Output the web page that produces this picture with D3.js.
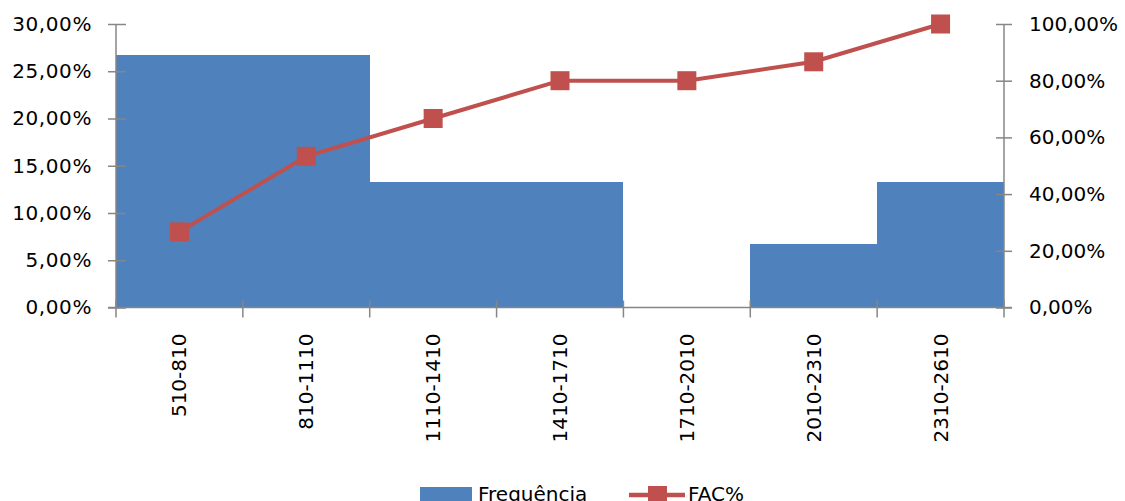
<!DOCTYPE html>
<html>
<head>
<meta charset="utf-8">
<script src="https://cdn.jsdelivr.net/npm/d3@7/dist/d3.min.js"></script>
<style>
  html, body { margin: 0; padding: 0; background: #fff; }
  svg { display: block; }
  text { font-family: "DejaVu Sans", sans-serif; font-size: 20px; fill: #000; }
</style>
</head>
<body>
<svg id="chart" width="1125" height="501"></svg>
<script>
// Class intervals
const categories = ["510-810", "810-1110", "1110-1410", "1410-1710", "1710-2010", "2010-2310", "2310-2610"];
// Relative frequency of each class (fraction)
const frequencia = [0.2667, 0.2667, 0.1333, 0.1333, 0, 0.0667, 0.1333];
// Cumulative frequency, percent as fraction
const facPct = [0.2667, 0.5333, 0.6667, 0.8, 0.8, 0.8667, 1.0];
// Axis tick values
const leftTicks = [0, 0.05, 0.10, 0.15, 0.20, 0.25, 0.30];
const rightTicks = [0, 0.2, 0.4, 0.6, 0.8, 1.0];
const seriesNames = ["Frequência", "FAC%"];

const blue = "#4F81BD", red = "#C0504D", axisGrey = "#868686";
const fmt = v => d3.format(".2f")(v * 100).replace(".", ",") + "%";

const svg = d3.select("#chart");
const plotL = 116, plotR = 1004, plotT = 24, plotB = 307.5;

const x = d3.scaleBand().domain(categories).range([plotL, plotR]).padding(0);
const yL = d3.scaleLinear().domain([0, 0.30]).range([plotB, plotT]);
const yR = d3.scaleLinear().domain([0, 1]).range([plotB, plotT]);

// Bars (no gap between classes)
svg.append("g").attr("shape-rendering", "crispEdges").selectAll("rect")
  .data(categories)
  .join("rect")
  .attr("x", d => Math.round(x(d)))
  .attr("width", d => Math.round(x(d) + x.bandwidth()) - Math.round(x(d)))
  .attr("y", (d, i) => yL(frequencia[i]))
  .attr("height", (d, i) => plotB - yL(frequencia[i]))
  .attr("fill", blue);

// Left axis
const gL = svg.append("g").attr("transform", `translate(${plotL},0)`)
  .call(d3.axisLeft(yL).tickValues(leftTicks).tickFormat(fmt).tickSize(8).tickPadding(16));
gL.select(".domain").attr("stroke", axisGrey).attr("stroke-width", 1.5).attr("d", `M0,${plotT}V${plotB}`);
gL.selectAll(".tick line").attr("stroke", axisGrey).attr("stroke-width", 1.5).attr("x1", 10);
gL.selectAll(".tick text").style("font-size", "20px").style("font-family", "DejaVu Sans, sans-serif")
  .style("letter-spacing", "0.6px");

// Right axis
const gR = svg.append("g").attr("transform", `translate(${plotR},0)`)
  .call(d3.axisRight(yR).tickValues(rightTicks).tickFormat(fmt).tickSize(8).tickPadding(17));
gR.select(".domain").attr("stroke", axisGrey).attr("stroke-width", 1.5).attr("d", `M0,${plotT}V${plotB}`);
gR.selectAll(".tick line").attr("stroke", axisGrey).attr("stroke-width", 1.5).attr("x1", -8);
gR.selectAll(".tick text").style("font-size", "20px").style("font-family", "DejaVu Sans, sans-serif");

// Category axis: labels at band centres, ticks at class boundaries
const gX = svg.append("g").attr("transform", `translate(0,${plotB})`)
  .call(d3.axisBottom(x).tickSize(0));
gX.select(".domain").attr("stroke", axisGrey).attr("stroke-width", 1.5).attr("d", `M${plotL - 8},0H${plotR + 8}`);
gX.selectAll(".tick text")
  .attr("transform", "rotate(-90)")
  .attr("text-anchor", "end")
  .attr("x", -26).attr("y", 0).attr("dy", "0.35em")
  .style("font-size", "20px").style("font-family", "DejaVu Sans, sans-serif");
const bounds = categories.map(c => x(c)).concat([x.range()[1]]);
gX.append("g").selectAll("line")
  .data(bounds)
  .join("line")
  .attr("x1", d => d).attr("x2", d => d)
  .attr("y1", -7).attr("y2", 10)
  .attr("stroke", axisGrey).attr("stroke-width", 1.5);

// Cumulative line with square markers
const line = d3.line().x((d, i) => x(categories[i]) + x.bandwidth() / 2).y(d => yR(d));
svg.append("path").datum(facPct)
  .attr("d", line)
  .attr("fill", "none").attr("stroke", red).attr("stroke-width", 4);
const ms = 19;
svg.append("g").selectAll("rect")
  .data(facPct)
  .join("rect")
  .attr("x", (d, i) => x(categories[i]) + x.bandwidth() / 2 - ms / 2)
  .attr("y", d => yR(d) - ms / 2)
  .attr("width", ms).attr("height", ms)
  .attr("fill", red);

// Legend (sits on the bottom edge)
const lg = svg.append("g");
lg.append("rect").attr("x", 420).attr("y", 487).attr("width", 52).attr("height", 16).attr("fill", blue);
lg.append("text").attr("x", 478).attr("y", 501).text(seriesNames[0]);
lg.append("line").attr("x1", 629).attr("x2", 685).attr("y1", 495).attr("y2", 495)
  .attr("stroke", red).attr("stroke-width", 4.5);
lg.append("rect").attr("x", 648).attr("y", 486).attr("width", 19).attr("height", 19).attr("fill", red);
lg.append("text").attr("x", 688).attr("y", 501).text(seriesNames[1]);
</script>
</body>
</html>
